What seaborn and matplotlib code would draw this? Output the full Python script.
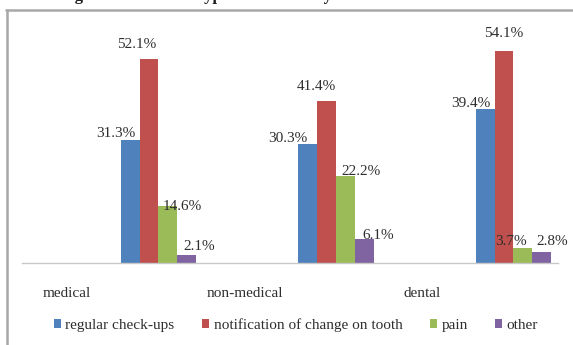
import matplotlib
matplotlib.use("Agg")
import matplotlib.pyplot as plt
from matplotlib.lines import Line2D
from matplotlib.patches import Patch
import pandas as pd
import seaborn as sns

# ---- data -------------------------------------------------------------
facilities = ["medical", "non-medical", "dental"]
reasons = ["regular check-ups", "notification of change on tooth", "pain", "other"]
regular_checkups = [31.3, 30.3, 39.4]
tooth_change = [52.1, 41.4, 54.1]
pain = [14.6, 22.2, 3.7]
other = [2.1, 6.1, 2.8]

series = [regular_checkups, tooth_change, pain, other]
colors = ["#4F81BD", "#C0504D", "#9BBB59", "#8064A2"]

# label nudges in pixels (dx, dy) per reason, per facility
label_nudge = {
    "regular check-ups": [(-15, 3), (-20, 2), (-14, 2)],
    "notification of change on tooth": [(-12, 11), (-10, 11), (0, 14)],
    "pain": [(14, -4), (16, 1), (-12, 3)],
    "other": [(13, 5), (14, 0), (11, 7)],
}

rows = []
for reason, vals in zip(reasons, series):
    for fac, v in zip(facilities, vals):
        rows.append({"facility": fac, "reason": reason, "share": v})
df = pd.DataFrame(rows)

# ---- style ------------------------------------------------------------
sns.set_theme(style="white")
plt.rcParams["font.family"] = ["Liberation Serif", "DejaVu Serif"]
text_color = "#2e2e2e"

W, H, DPI = 573, 345, 100
fig = plt.figure(figsize=(W / DPI, H / DPI), dpi=DPI, facecolor="white")

ax_left, ax_right = 22 / W, 558 / W
ax_bottom, ax_top = 1 - 263 / H, 1 - 27.8 / H
ax = fig.add_axes([ax_left, ax_bottom, ax_right - ax_left, ax_top - ax_bottom])
ax.set_facecolor("white")

sns.barplot(
    data=df, x="facility", y="share", hue="reason",
    order=facilities, hue_order=reasons, palette=colors,
    width=0.423, gap=0, dodge=True, saturation=1,
    errorbar=None, legend=False, linewidth=0, ax=ax,
)

ax.set_ylim(0, 60)
ax.set_xlim(-0.769, 2.251)
ax.set_xlabel("")
ax.set_ylabel("")
ax.set_yticks([])

# category names sit to the left of each bar cluster
ax.set_xticks([i - 0.515 for i in range(len(facilities))])
ax.set_xticklabels(facilities, fontsize=11, color=text_color)
ax.tick_params(axis="x", length=0, pad=17)

for side in ["top", "right", "left"]:
    ax.spines[side].set_visible(False)
ax.spines["bottom"].set_color("#C8C8C8")
ax.spines["bottom"].set_linewidth(1.0)

# value labels
for reason, container in zip(reasons, ax.containers):
    for bar, (dx, dy) in zip(container, label_nudge[reason]):
        h = bar.get_height()
        ax.annotate(
            f"{h:.1f}%",
            xy=(bar.get_x() + bar.get_width() / 2, h),
            xytext=(dx, dy), textcoords="offset pixels",
            ha="center", va="baseline", fontsize=11, color=text_color,
        )

# legend
handles = [Patch(facecolor=c, edgecolor="none") for c in colors]
fig.legend(
    handles, reasons, loc="center", bbox_to_anchor=(296 / W, 1 - 325 / H),
    ncol=4, frameon=False, fontsize=11, handlelength=0.45, handleheight=0.45,
    handletextpad=0.3, columnspacing=1.8, labelcolor=text_color,
)

# outer frame (left and top edges)
frame_color = "#A8A8A8"
fig.add_artist(Line2D([6.5 / W, 6.5 / W], [0, 1 - 10 / H], color=frame_color,
                      linewidth=1.8, transform=fig.transFigure))
fig.add_artist(Line2D([6 / W, 1], [1 - 10 / H, 1 - 10 / H], color=frame_color,
                      linewidth=1.8, transform=fig.transFigure))

# heading running off the top edge: only the descenders fall inside
fig.text(60 / W, 1 + 0.5 / H,
         "Fig. 3. Dental visit: types of reasons by institution",
         fontsize=12, fontweight="bold", color="#1a1a1a",
         ha="left", va="baseline")

fig.savefig("out.png", dpi=DPI, facecolor="white")
